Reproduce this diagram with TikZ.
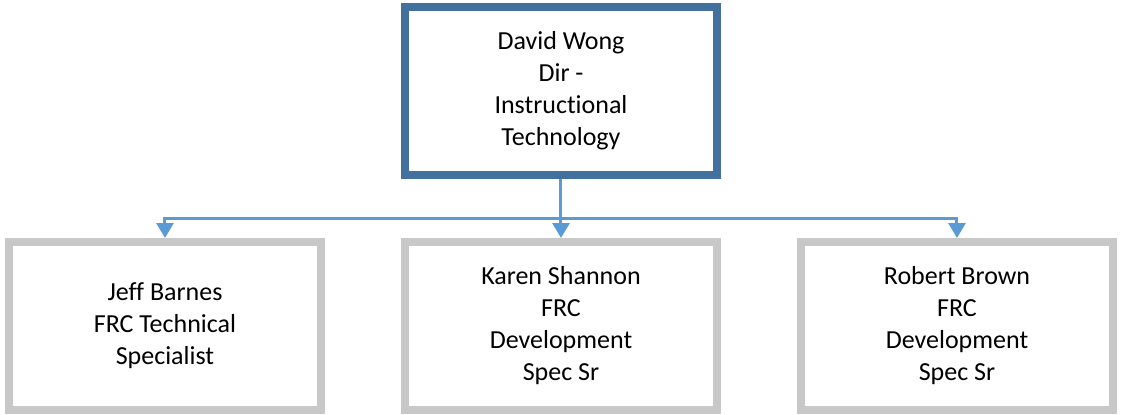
\documentclass[tikz,border=0pt]{standalone}
\usepackage{fontspec}
\setmainfont[Ligatures=NoCommon]{Carlito}
\usepackage{tikz}
\usetikzlibrary{positioning, arrows.meta, shadows}
\usepackage{xcolor}

\definecolor{headblue}{HTML}{41719C}
\definecolor{staffgray}{HTML}{C8C8C8}
\definecolor{linkblue}{HTML}{5B9BD5}

\begin{document}
\begin{tikzpicture}[on grid, node distance=117.5pt and 198pt,
    box/.style={rectangle, fill=white, line width=4pt, minimum width=156pt, minimum height=84pt,
        align=center, font=\fontsize{13}{16}\selectfont,
        drop shadow={shadow xshift=1.2pt, shadow yshift=-1.2pt, opacity=0.12, fill=black}},
    head/.style={box, draw=headblue},
    staff/.style={box, draw=staffgray},
    link/.style={draw=linkblue, line width=1.5pt, -{Triangle[length=7.5pt, width=8.5pt]}}]
    \useasboundingbox (-280.5pt,45.5pt) rectangle (280pt,-161.5pt);

    \node[head] (david) {David Wong\\Dir -\\Instructional\\Technology};
    \node[staff, below=of david] (karen) {Karen Shannon\\FRC\\Development\\Spec Sr};
    \node[staff, left=of karen] (jeff) {Jeff Barnes\\FRC Technical\\Specialist};
    \node[staff, right=of karen] (robert) {Robert Brown\\FRC\\Development\\Spec Sr};

    \coordinate[below=19.5pt of david.south] (bus);

    \draw[link] (david.south) -- (bus) -| (jeff.north);
    \draw[link] (david.south) -- (karen.north);
    \draw[link] (david.south) -- (bus) -| (robert.north);
\end{tikzpicture}
\end{document}
